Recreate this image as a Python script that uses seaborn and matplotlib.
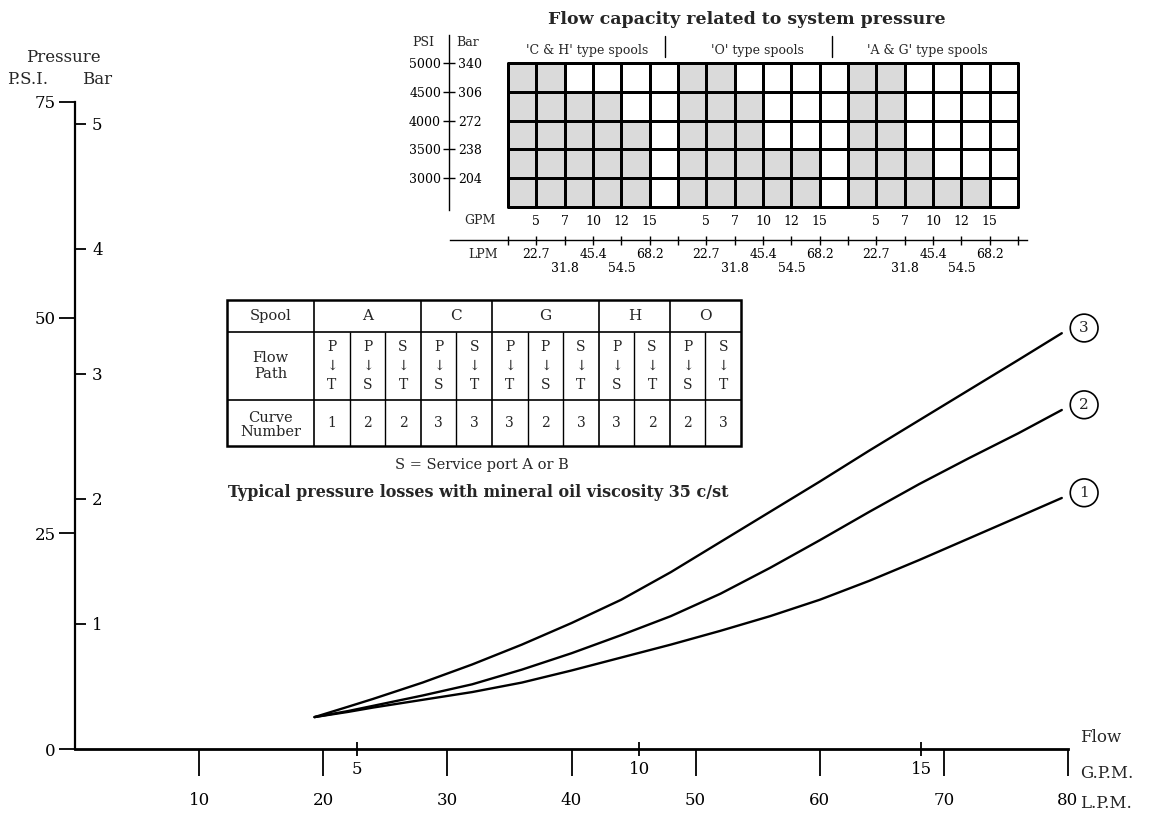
import numpy as np
import pandas as pd
import matplotlib
matplotlib.use("Agg")
import matplotlib.pyplot as plt
from matplotlib.colors import ListedColormap
from matplotlib.patches import Rectangle
import seaborn as sns

# --- main chart data ---
flow_lpm = [19.3, 22, 24, 28, 32, 36, 40, 44, 48, 52, 56, 60, 64, 68, 72, 76, 79.5]
curve_1 = [3.7, 4.3, 4.8, 5.7, 6.6, 7.7, 9.1, 10.6, 12.1, 13.7, 15.4, 17.3, 19.5, 21.9, 24.4, 26.9, 29.1]
curve_2 = [3.7, 4.4, 5.0, 6.2, 7.5, 9.2, 11.1, 13.2, 15.4, 18.0, 21.0, 24.2, 27.5, 30.7, 33.7, 36.6, 39.3]
curve_3 = [3.7, 4.9, 5.8, 7.7, 9.8, 12.1, 14.6, 17.3, 20.5, 24.0, 27.5, 31.0, 34.6, 38.1, 41.6, 45.1, 48.2]
curve_names = ["1", "2", "3"]

psi_ticks = [0, 25, 50, 75]
bar_ticks = [1, 2, 3, 4, 5]
lpm_ticks = [10, 20, 30, 40, 50, 60, 70, 80]
gpm_ticks = [5, 10, 15]

# --- flow capacity inset ---
inset_psi = [5000, 4500, 4000, 3500, 3000]
inset_bar = [340, 306, 272, 238, 204]
spool_groups = ["'C & H' type spools", "'O' type spools", "'A & G' type spools"]
# number of shaded flow columns per pressure band (top band first)
capacity_ch = [2, 4, 5, 5, 5]
capacity_o = [2, 3, 3, 5, 5]
capacity_ag = [2, 2, 2, 3, 5]
gpm_cols = ["5", "7", "10", "12", "15"]
lpm_cols = ["22.7", "\n31.8", "45.4", "\n54.5", "68.2"]

# --- spool table ---
spools = ["A", "C", "G", "H", "O"]
spool_span = [3, 2, 3, 2, 2]
flow_from = ["P", "P", "S", "P", "S", "P", "P", "S", "P", "S", "P", "S"]
flow_to = ["T", "S", "T", "S", "T", "T", "S", "T", "S", "T", "S", "T"]
curve_no = [1, 2, 2, 3, 3, 3, 2, 3, 3, 2, 2, 3]

W, H = 1150, 816


def px_box(l, t, r, b):
    return [l / W, 1 - b / H, (r - l) / W, (b - t) / H]


def pt(p):
    return p * 72 / 100


sns.set_theme(style="white")
plt.rcParams["font.family"] = ["DejaVu Serif", "DejaVu Sans"]

fig = plt.figure(figsize=(W / 100, H / 100), dpi=100)


def ftext(x, y, s, **kw):
    kw.setdefault("ha", "center")
    kw.setdefault("va", "center")
    return fig.text(x / W, 1 - y / H, s, **kw)


# ---------------- main plot ----------------
df = pd.DataFrame({
    "flow": flow_lpm * 3,
    "psi": curve_1 + curve_2 + curve_3,
    "curve": sum([[c] * len(flow_lpm) for c in curve_names], []),
})

ax = fig.add_axes(px_box(75, 102, 1068, 749))
sns.lineplot(data=df, x="flow", y="psi", hue="curve", palette=["black"] * 3,
             legend=False, lw=1.7, ax=ax)
ax.set_xlim(0, 80)
ax.set_ylim(0, 75)
ax.set_xlabel("")
ax.set_ylabel("")
ax.spines[["top", "right"]].set_visible(False)
ax.spines["left"].set_linewidth(1.6)
ax.spines["bottom"].set_linewidth(2.0)
for s in ["left", "bottom"]:
    ax.spines[s].set_color("black")

ax.set_yticks(psi_ticks)
ax.tick_params(axis="y", left=True, direction="out", length=pt(16), width=1.3,
               pad=pt(3), labelsize=12, colors="black")
ax.set_xticks(lpm_ticks)
ax.tick_params(axis="x", bottom=True, direction="out", length=pt(27), width=1.3,
               pad=pt(16), labelsize=12, colors="black")

sec_bar = ax.secondary_yaxis(0, functions=(lambda p: p / 14.5, lambda b: b * 14.5))
sec_bar.set_alignment("right")
sec_bar.set_yticks(bar_ticks)
sec_bar.tick_params(axis="y", direction="out", length=pt(11), width=1.3,
                    pad=pt(6), labelsize=12, colors="black")
sec_bar.spines[["left", "right"]].set_visible(False)

sec_gpm = ax.secondary_xaxis(0, functions=(lambda l: l / 4.546, lambda g: g * 4.546))
sec_gpm.set_xticks(gpm_ticks)
sec_gpm.tick_params(axis="x", direction="inout", length=pt(14), width=1.3,
                    pad=pt(5), labelsize=12, colors="black")
sec_gpm.spines[["top", "bottom"]].set_visible(False)

for name, ys in zip(curve_names, [curve_1, curve_2, curve_3]):
    ax.text(flow_lpm[-1] + 1.8, ys[-1] + 0.6, name, ha="center", va="center",
            fontsize=11, bbox=dict(boxstyle="circle,pad=0.45", fc="white",
                                   ec="black", lw=1.2))

ftext(63, 58, "Pressure", fontsize=12)
ftext(28, 80, "P.S.I.", fontsize=12)
ftext(97, 80, "Bar", fontsize=12)
ftext(1080, 738, "Flow", fontsize=12, ha="left")
ftext(1080, 773, "G.P.M.", fontsize=12, ha="left")
ftext(1080, 803, "L.P.M.", fontsize=12, ha="left")

# ---------------- flow capacity inset ----------------
caps = [capacity_ch, capacity_o, capacity_ag]
n_rows = len(inset_psi)
shade = np.zeros((n_rows, 18))
for b, cap in enumerate(caps):
    for r in range(n_rows):
        shade[r, b * 6: b * 6 + cap[r]] = 1

axg = fig.add_axes(px_box(508, 63, 1018, 207))
sns.heatmap(shade, cmap=ListedColormap(["white", "#dadada"]), vmin=0, vmax=1,
            cbar=False, linewidths=1.0, linecolor="black",
            xticklabels=False, yticklabels=False, ax=axg)
axg.collections[0].set_clip_on(False)
for b in [6, 12]:
    axg.axvline(b, color="black", lw=2.0)
axg.add_patch(Rectangle((0, 0), 18, n_rows, fill=False, lw=1.8,
                        ec="black", clip_on=False))

axg.spines["bottom"].set_visible(True)
axg.spines["bottom"].set_position(("outward", pt(33)))
axg.spines["bottom"].set_bounds(-2.05, 18.3)
axg.spines["bottom"].set_linewidth(1.0)
axg.spines["bottom"].set_color("black")
bound_labels = []
for b in range(3):
    bound_labels += [""] + lpm_cols
bound_labels += [""]
axg.set_xticks(range(19))
axg.set_xticklabels(bound_labels, rotation=0)
axg.tick_params(axis="x", bottom=True, direction="inout", length=pt(9),
                width=1.0, pad=pt(3), labelsize=9, colors="black")

gpm_pos = [b * 6 + i + 1 for b in range(3) for i in range(5)]
sec_g = axg.secondary_xaxis(-33 / 144, functions=(lambda v: v, lambda v: v))
sec_g.set_alignment("top")
sec_g.set_xticks(gpm_pos)
sec_g.set_xticklabels(gpm_cols * 3)
sec_g.tick_params(axis="x", length=0, pad=pt(12), labelsize=9, colors="black")
sec_g.spines[["top", "bottom"]].set_visible(False)

for b, label in enumerate(spool_groups):
    axg.text(b * 6 + 2.8, -0.45, label, ha="center", va="center", fontsize=9)
for xs in [5.55, 11.45]:
    axg.plot([xs, xs], [-0.95, -0.2], color="black", lw=1.0, clip_on=False)

ftext(747, 20, "Flow capacity related to system pressure",
      fontsize=12.5, fontweight="bold")
ftext(480, 220, "GPM", fontsize=9)
ftext(483, 254, "LPM", fontsize=9)

axp = fig.add_axes(px_box(449, 63, 500, 207))
axp.set_ylim(5000 - 500 * n_rows, 5000)
axp.patch.set_visible(False)
axp.spines[["top", "right", "bottom"]].set_visible(False)
axp.spines["left"].set_bounds(2450, 5480)
axp.spines["left"].set_color("black")
axp.spines["left"].set_linewidth(1.0)
axp.set_xticks([])
axp.set_yticks(inset_psi)
axp.tick_params(axis="y", left=True, direction="inout", length=pt(12), width=1.0,
                pad=pt(2), labelsize=9, colors="black")
sec_p = axp.secondary_yaxis(0, functions=(lambda p: p / 14.7, lambda b: b * 14.7))
sec_p.set_alignment("right")
sec_p.set_yticks(inset_bar)
sec_p.tick_params(axis="y", length=0, pad=pt(9), labelsize=9, colors="black")
sec_p.spines[["left", "right"]].set_visible(False)
ftext(423, 43, "PSI", fontsize=9)
ftext(468, 43, "Bar", fontsize=9)

# ---------------- spool table ----------------
first_w = 2.45
n_cols = len(curve_no)
tab_w = first_w + n_cols
row_edges = [0, 32, 100, 146]

axt = fig.add_axes(px_box(227, 300, 741, 446))
axt.set_xlim(0, tab_w)
axt.set_ylim(row_edges[-1], 0)
axt.axis("off")
axt.add_patch(Rectangle((0, 0), tab_w, row_edges[-1], fill=False, lw=1.8,
                        ec="black", clip_on=False))
axt.hlines(row_edges[1:3], 0, tab_w, color="black", lw=1.2)
group_edges = first_w + np.cumsum([0] + spool_span)
axt.vlines(group_edges[:-1], 0, row_edges[-1], color="black", lw=1.2)
inner = [first_w + i for i in range(1, n_cols) if first_w + i not in group_edges]
axt.vlines(inner, row_edges[1], row_edges[-1], color="black", lw=1.0)

axt.text(first_w / 2, 16, "Spool", ha="center", va="center", fontsize=10.5)
axt.text(first_w / 2, 66, "Flow\nPath", ha="center", va="center", fontsize=10.5,
         linespacing=1.1)
axt.text(first_w / 2, 125, "Curve\nNumber", ha="center", va="center",
         fontsize=10.5, linespacing=1.05)
for sp, lo, hi in zip(spools, group_edges[:-1], group_edges[1:]):
    axt.text((lo + hi) / 2, 16, sp, ha="center", va="center", fontsize=11)
for i in range(n_cols):
    cx = first_w + i + 0.5
    axt.text(cx, 66, f"{flow_from[i]}\n\u2193\n{flow_to[i]}", ha="center",
             va="center", fontsize=10, linespacing=1.45)
    axt.text(cx, 123, str(curve_no[i]), ha="center", va="center", fontsize=10)

ftext(482, 465, "S = Service port A or B", fontsize=10.5)
ftext(478, 493, "Typical pressure losses with mineral oil viscosity 35 c/st",
      fontsize=11.5, fontweight="bold")

fig.savefig("out.png", dpi=100)
